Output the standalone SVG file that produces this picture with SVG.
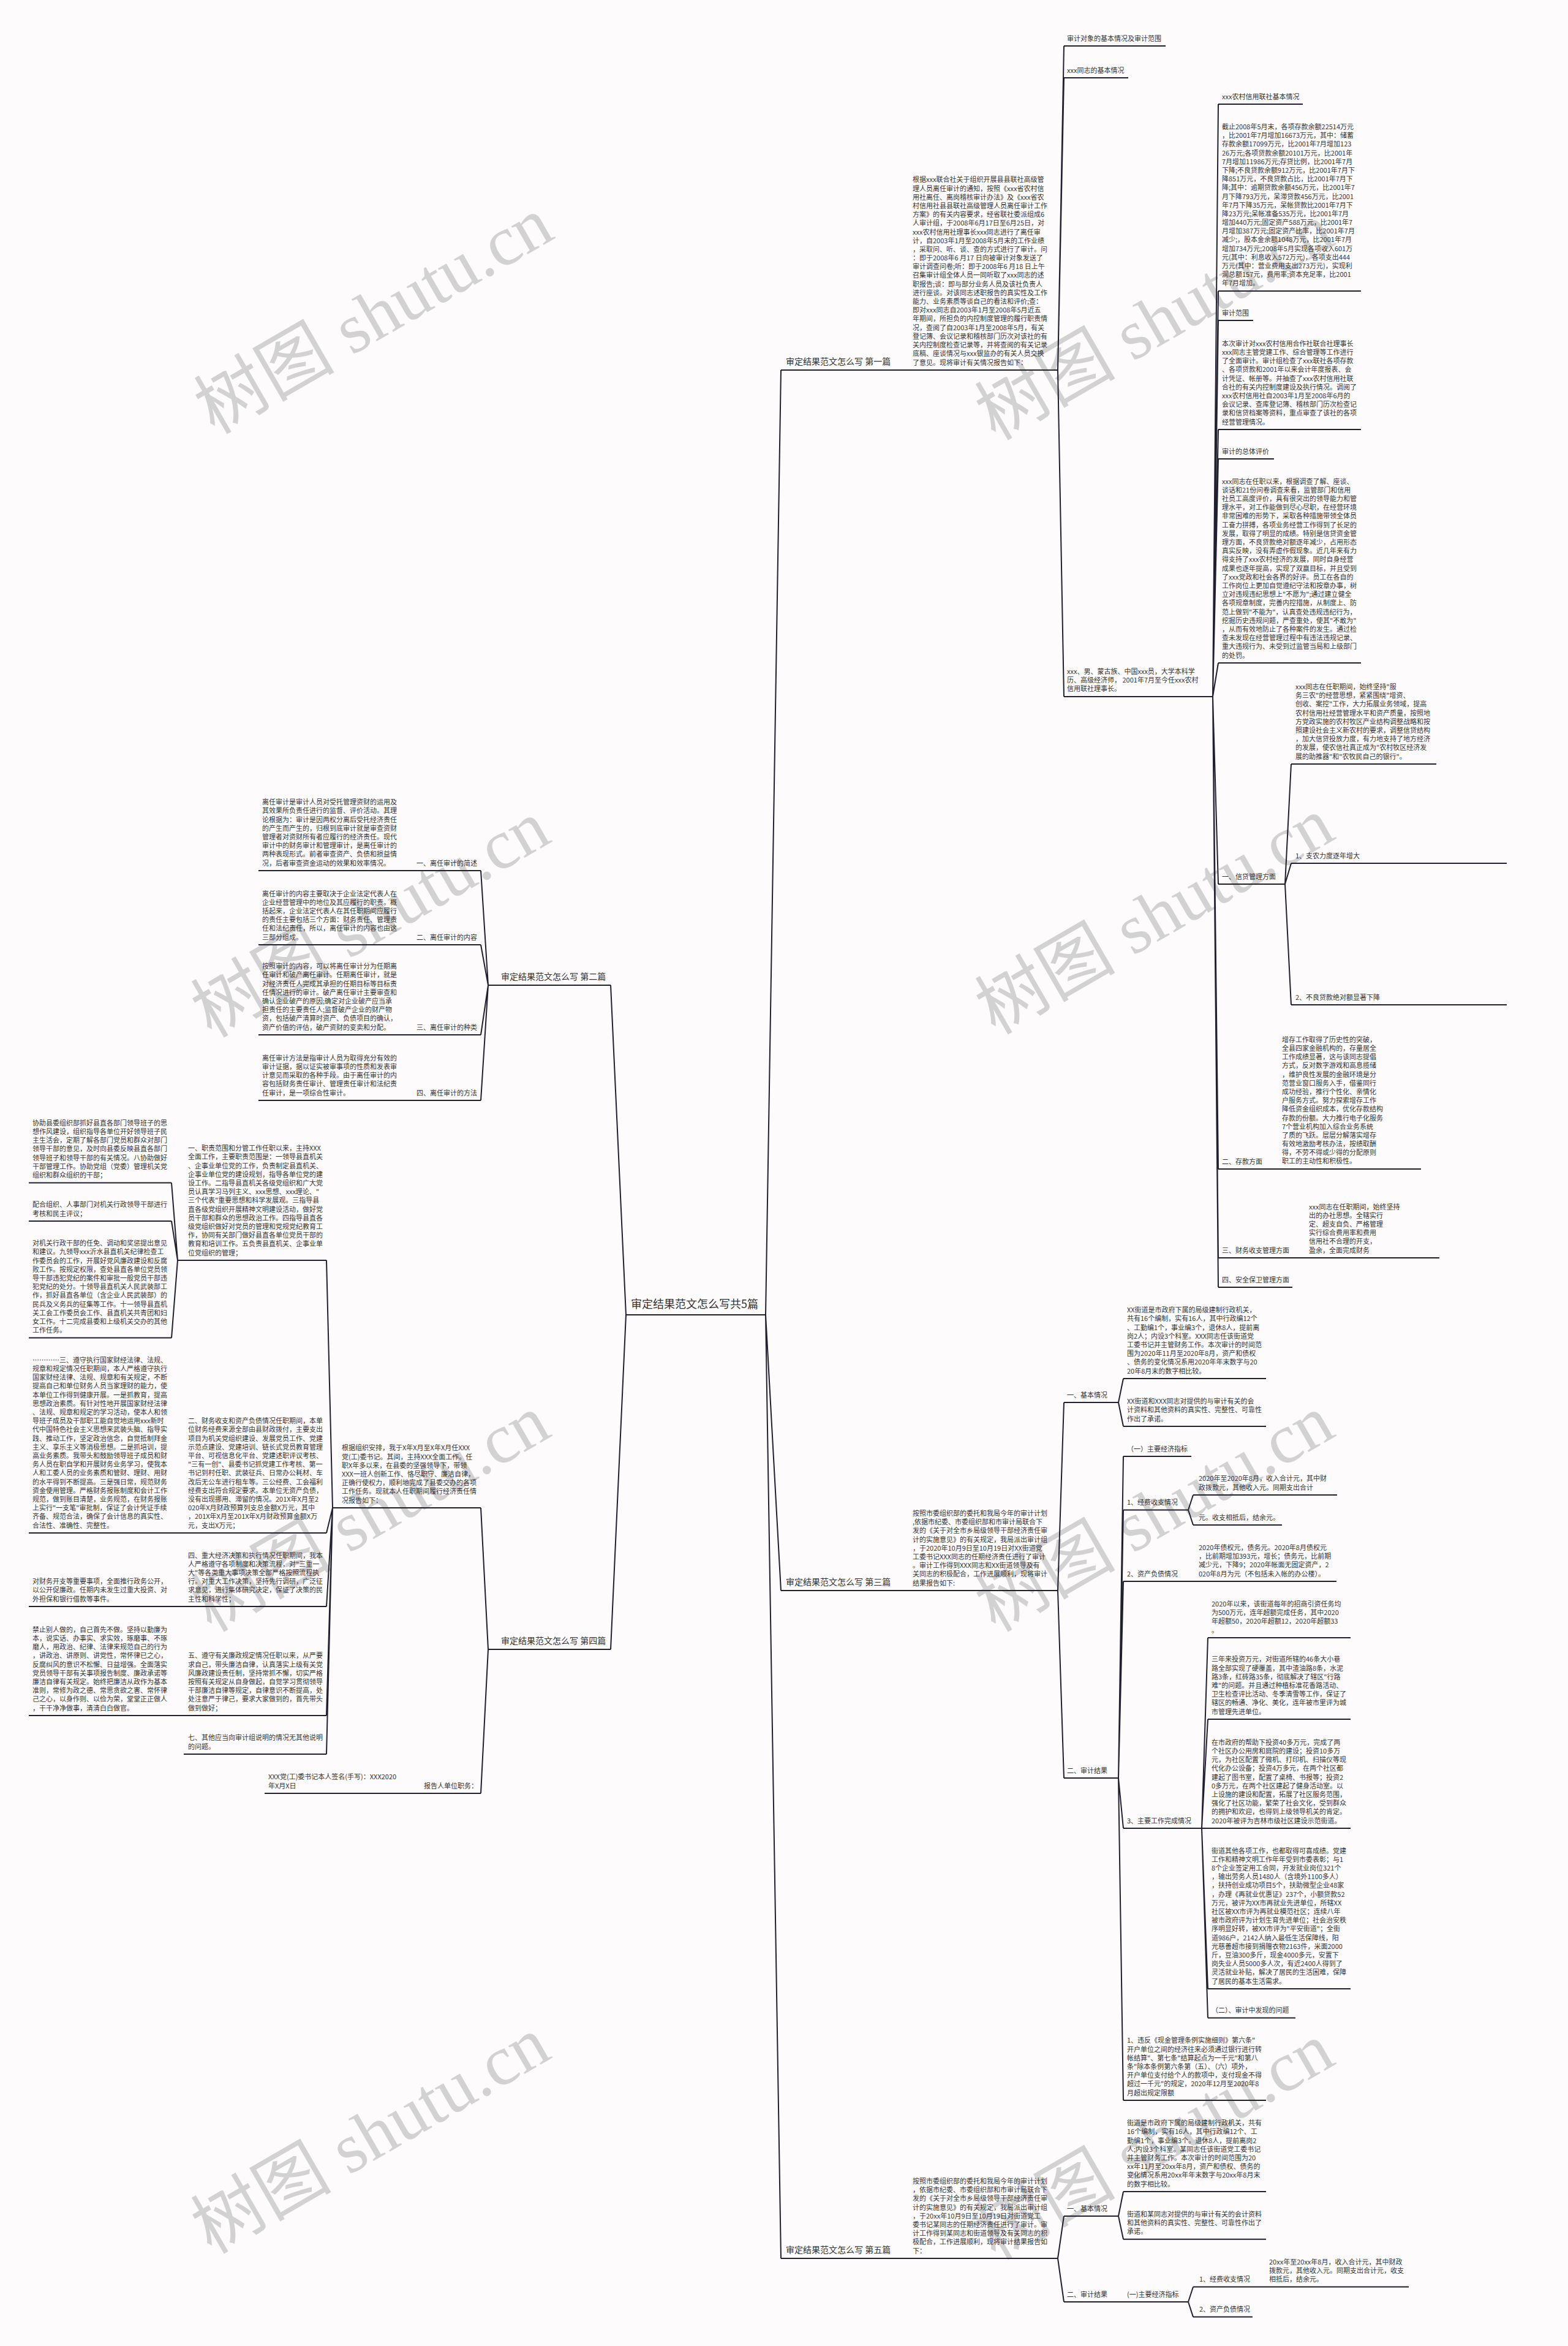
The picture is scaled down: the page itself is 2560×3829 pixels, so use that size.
<svg xmlns="http://www.w3.org/2000/svg" width="2560" height="3829" viewBox="0 0 2560 3829">
<style>
.bg{fill:#fdfbfb}
.t{font-family:"Noto Sans CJK SC","Noto Sans",sans-serif;font-size:11px;fill:#333}
.l1{font-family:"Noto Sans CJK SC","Noto Sans",sans-serif;font-size:14px;fill:#333}
.rt{font-family:"Noto Sans CJK SC","Noto Sans",sans-serif;font-size:18px;fill:#333}
.u{stroke:#20202e;stroke-width:2;fill:none}
.c{stroke:#20202e;stroke-width:2;fill:none}
.wm{font-family:"Liberation Serif","Noto Sans CJK SC",serif;font-size:115px;fill:#d2d2d2}
</style>
<rect class="bg" x="0" y="0" width="2560" height="3829"/>
<g id="watermark">
<text class="wm" x="350" y="710" transform="rotate(-30 350 710)">树图 shutu.cn</text>
<text class="wm" x="1625" y="720" transform="rotate(-30 1625 720)">树图 shutu.cn</text>
<text class="wm" x="345" y="1695" transform="rotate(-30 345 1695)">树图 shutu.cn</text>
<text class="wm" x="1625" y="1690" transform="rotate(-30 1625 1690)">树图 shutu.cn</text>
<text class="wm" x="345" y="2665" transform="rotate(-30 345 2665)">树图 shutu.cn</text>
<text class="wm" x="1625" y="2665" transform="rotate(-30 1625 2665)">树图 shutu.cn</text>
<text class="wm" x="345" y="3680" transform="rotate(-30 345 3680)">树图 shutu.cn</text>
<text class="wm" x="1625" y="3690" transform="rotate(-30 1625 3690)">树图 shutu.cn</text>
</g>
<g id="connectors">
<path class="c" d="M1250,2146L1275,604M1250,2146L1275,2596M1250,2146L1275,3686M1022,2146L997,1608M1022,2146L997,2692"/>
<path class="c" d="M1727,604L1737,75M1727,604L1737,127M1727,604L1737,1137"/>
<path class="c" d="M1980,1137L1989,170M1980,1137L1989,475M1980,1137L1989,523M1980,1137L1989,701M1980,1137L1989,749M1980,1137L1989,1082M1980,1137L1989,1443M1980,1137L1989,1908M1980,1137L1989,2053M1980,1137L1989,2101"/>
<path class="c" d="M2098,1443L2108,1247M2098,1443L2108,1409M2098,1443L2108,1640"/>
<path class="c" d="M797,1608L785,1421M797,1608L785,1542M797,1608L785,1689M797,1608L785,1796"/>
<path class="c" d="M797,2692L785,2461M797,2692L785,2927"/>
<path class="c" d="M543,2461L533,2057M543,2461L533,2502M543,2461L533,2622M543,2461L533,2800M543,2461L533,2863"/>
<path class="c" d="M290,2057L280,1930.5M290,2057L280,1993M290,2057L280,2183.6"/>
<path class="c" d="M1727,2596L1737,2289M1727,2596L1737,2902"/>
<path class="c" d="M1826,2289L1834,2250M1826,2289L1834,2328"/>
<path class="c" d="M1826,2902L1834,2377M1826,2902L1834,2464.5M1826,2902L1834,2581M1826,2902L1834,2984M1826,2902L1834,3428"/>
<path class="c" d="M1940,2464.5L1948,2440M1940,2464.5L1948,2489"/>
<path class="c" d="M1962,2984L1972,2673M1962,2984L1972,2806M1962,2984L1972,2984M1962,2984L1972,3246M1962,2984L1972,3293.5"/>
<path class="c" d="M1727,3686L1737,3617M1727,3686L1737,3757"/>
<path class="c" d="M1826,3617L1834,3577M1826,3617L1834,3654.7M1826,3757L1834,3757"/>
<path class="c" d="M1940,3757L1948,3732.5M1940,3757L1948,3781.6"/>
</g>
<g id="root">
<text class="rt" x="1030" y="2135">审定结果范文怎么写共5篇</text>
<line class="u" x1="1022" y1="2146" x2="1250" y2="2146"/>
</g>
<g id="p1">
<text class="l1" x="1283" y="595">审定结果范文怎么写 第一篇</text>
<line class="u" x1="1275" y1="604" x2="1460" y2="604"/>
</g>
<g id="p1-main">
<text class="t" y="297.3"><tspan x="1490" dy="0">根据xxx联合社关于组织开展县县联社高级管</tspan><tspan x="1490" dy="14.2">理人员离任审计的通知，按照《xxx省农村信</tspan><tspan x="1490" dy="14.2">用社离任、离岗稽核审计办法》及《xxx省农</tspan><tspan x="1490" dy="14.2">村信用社县县联社高级管理人员离任审计工作</tspan><tspan x="1490" dy="14.2">方案》的有关内容要求，经省联社委派组成6</tspan><tspan x="1490" dy="14.2">人审计组，于2008年6月17日至6月25日，对</tspan><tspan x="1490" dy="14.2">xxx农村信用社理事长xxx同志进行了离任审</tspan><tspan x="1490" dy="14.2">计，自2003年1月至2008年5月末的工作业绩</tspan><tspan x="1490" dy="14.2">，采取问、听、谈、查的方式进行了审计。问</tspan><tspan x="1490" dy="14.2">：即于2008年6 月17 日向被审计对象发送了</tspan><tspan x="1490" dy="14.2">审计调查问卷;听：即于2008年6 月18 日上午</tspan><tspan x="1490" dy="14.2">召集审计组全体人员一同听取了xxx同志的述</tspan><tspan x="1490" dy="14.2">职报告;谈：即与部分业务人员及该社负责人</tspan><tspan x="1490" dy="14.2">进行座谈。对该同志述职报告的真实性及工作</tspan><tspan x="1490" dy="14.2">能力、业务素质等谈自己的看法和评价;查：</tspan><tspan x="1490" dy="14.2">即对xxx同志自2003年1月至2008年5月近五</tspan><tspan x="1490" dy="14.2">年期间，所担负的内控制度管理的履行职责情</tspan><tspan x="1490" dy="14.2">况，查阅了自2003年1月至2008年5月，有关</tspan><tspan x="1490" dy="14.2">登记簿、会议记录和稽核部门历次对该社的有</tspan><tspan x="1490" dy="14.2">关内控制度检查记录等，并将查阅的有关记录</tspan><tspan x="1490" dy="14.2">底稿、座谈情况与xxx银监办的有关人员交换</tspan><tspan x="1490" dy="14.2">了意见。现将审计有关情况报告如下：</tspan></text>
<line class="u" x1="1460" y1="604" x2="1727" y2="604"/>
</g>
<g id="p1-a">
<text class="t" x="1742" y="66.5">审计对象的基本情况及审计范围</text>
<line class="u" x1="1737" y1="75" x2="1903" y2="75"/>
</g>
<g id="p1-b">
<text class="t" x="1742" y="118.5">xxx同志的基本情况</text>
<line class="u" x1="1737" y1="127" x2="1842" y2="127"/>
</g>
<g id="p1-c">
<text class="t" y="1100"><tspan x="1742" dy="0">xxx、男、蒙古族、中国xxx员，大学本科学</tspan><tspan x="1742" dy="14.2">历、高级经济师， 2001年7月至今任xxx农村</tspan><tspan x="1742" dy="14.2">信用联社理事长。</tspan></text>
<line class="u" x1="1737" y1="1137" x2="1980" y2="1137"/>
</g>
<g id="p1-c1">
<text class="t" x="1995" y="161.5">xxx农村信用联社基本情况</text>
<line class="u" x1="1989" y1="170" x2="2127" y2="170"/>
</g>
<g id="p1-c2">
<text class="t" y="210.9"><tspan x="1995" dy="0">截止2008年5月末，各项存款余额22514万元</tspan><tspan x="1995" dy="14.2">，比2001年7月增加16673万元，其中：储蓄</tspan><tspan x="1995" dy="14.2">存款余额17099万元，比2001年7月增加123</tspan><tspan x="1995" dy="14.2">26万元;各项贷款余额20101万元，比2001年</tspan><tspan x="1995" dy="14.2">7月增加11986万元;存贷比例，比2001年7月</tspan><tspan x="1995" dy="14.2">下降;不良贷款余额912万元，比2001年7月下</tspan><tspan x="1995" dy="14.2">降851万元，不良贷款占比，比2001年7月下</tspan><tspan x="1995" dy="14.2">降;其中：逾期贷款余额456万元，比2001年7</tspan><tspan x="1995" dy="14.2">月下降793万元，呆滞贷款456万元，比2001</tspan><tspan x="1995" dy="14.2">年7月下降35万元，呆帐贷款比2001年7月下</tspan><tspan x="1995" dy="14.2">降23万元;呆帐准备535万元，比2001年7月</tspan><tspan x="1995" dy="14.2">增加440万元;固定资产588万元，比2001年7</tspan><tspan x="1995" dy="14.2">月增加387万元;固定资产比率，比2001年7月</tspan><tspan x="1995" dy="14.2">减少;，股本金余额1048万元，比2001年7月</tspan><tspan x="1995" dy="14.2">增加734万元;2008年5月实现各项收入601万</tspan><tspan x="1995" dy="14.2">元(其中：利息收入572万元)，各项支出444</tspan><tspan x="1995" dy="14.2">万元(其中：营业费用支出273万元)，实现利</tspan><tspan x="1995" dy="14.2">润总额157元，费用率;资本充足率，比2001</tspan><tspan x="1995" dy="14.2">年7月增加。</tspan></text>
<line class="u" x1="1989" y1="475" x2="2222" y2="475"/>
</g>
<g id="p1-c3">
<text class="t" x="1995" y="514.5">审计范围</text>
<line class="u" x1="1989" y1="523" x2="2046" y2="523"/>
</g>
<g id="p1-c4">
<text class="t" y="564.7"><tspan x="1995" dy="0">本次审计对xxx农村信用合作社联合社理事长</tspan><tspan x="1995" dy="14.2">xxx同志主管党建工作、综合管理等工作进行</tspan><tspan x="1995" dy="14.2">了全面审计。审计组检查了xxx联社各项存款</tspan><tspan x="1995" dy="14.2">、各项贷款和2001年以来会计年度报表、会</tspan><tspan x="1995" dy="14.2">计凭证、帐册等。并抽查了xxx农村信用社联</tspan><tspan x="1995" dy="14.2">合社的有关内控制度建设及执行情况。调阅了</tspan><tspan x="1995" dy="14.2">xxx农村信用社自2003年1月至2008年6月的</tspan><tspan x="1995" dy="14.2">会议记录、查库登记簿、稽核部门历次检查记</tspan><tspan x="1995" dy="14.2">录和信贷档案等资料，重点审查了该社的各项</tspan><tspan x="1995" dy="14.2">经营管理情况。</tspan></text>
<line class="u" x1="1989" y1="701" x2="2222" y2="701"/>
</g>
<g id="p1-c5">
<text class="t" x="1995" y="740.5">审计的总体评价</text>
<line class="u" x1="1989" y1="749" x2="2080" y2="749"/>
</g>
<g id="p1-c6">
<text class="t" y="789.5"><tspan x="1995" dy="0">xxx同志在任职以来，根据调查了解、座谈、</tspan><tspan x="1995" dy="14.2">谈话和21份问卷调查来看，监管部门和信用</tspan><tspan x="1995" dy="14.2">社员工高度评价，具有很突出的领导能力和管</tspan><tspan x="1995" dy="14.2">理水平，对工作能做到尽心尽职，在经营环境</tspan><tspan x="1995" dy="14.2">非常困难的形势下，采取各种措施带领全体员</tspan><tspan x="1995" dy="14.2">工奋力拼搏，各项业务经营工作得到了长足的</tspan><tspan x="1995" dy="14.2">发展，取得了明显的成绩。特别是信贷资金管</tspan><tspan x="1995" dy="14.2">理方面，不良贷款绝对额逐年减少，占用形态</tspan><tspan x="1995" dy="14.2">真实反映，没有弄虚作假现象。近几年来有力</tspan><tspan x="1995" dy="14.2">得支持了xxx农村经济的发展，同时自身经营</tspan><tspan x="1995" dy="14.2">成果也逐年提高，实现了双赢目标，并且受到</tspan><tspan x="1995" dy="14.2">了xxx党政和社会各界的好评。员工在各自的</tspan><tspan x="1995" dy="14.2">工作岗位上更加自觉遵纪守法和按章办事，树</tspan><tspan x="1995" dy="14.2">立对违规违纪思想上"不愿为";通过建立健全</tspan><tspan x="1995" dy="14.2">各项规章制度，完善内控措施，从制度上、防</tspan><tspan x="1995" dy="14.2">范上做到"不能为"，认真查处违规违纪行为，</tspan><tspan x="1995" dy="14.2">挖掘历史违规问题，严查重处，使其"不敢为"</tspan><tspan x="1995" dy="14.2">，从而有效地防止了各种案件的发生。通过检</tspan><tspan x="1995" dy="14.2">查未发现在经营管理过程中有违法违规记录、</tspan><tspan x="1995" dy="14.2">重大违规行为、未受到过监管当局和上级部门</tspan><tspan x="1995" dy="14.2">的处罚。</tspan></text>
<line class="u" x1="1989" y1="1082" x2="2222" y2="1082"/>
</g>
<g id="p1-c7">
<text class="t" x="1995" y="1434.5">一、信贷管理方面</text>
<line class="u" x1="1989" y1="1443" x2="2098" y2="1443"/>
</g>
<g id="p1-c7a">
<text class="t" y="1125"><tspan x="2115" dy="0">xxx同志在任职期间，始终坚持"服</tspan><tspan x="2115" dy="14.2">务三农"的经营思想，紧紧围绕"增资、</tspan><tspan x="2115" dy="14.2">创收、案控"工作，大力拓展业务领域，提高</tspan><tspan x="2115" dy="14.2">农村信用社经营管理水平和资产质量，按照地</tspan><tspan x="2115" dy="14.2">方党政实施的农村牧区产业结构调整战略和按</tspan><tspan x="2115" dy="14.2">照建设社会主义新农村的要求，调整信贷结构</tspan><tspan x="2115" dy="14.2">，加大信贷投放力度，有力地支持了地方经济</tspan><tspan x="2115" dy="14.2">的发展，使农信社真正成为"农村牧区经济发</tspan><tspan x="2115" dy="14.2">展的助推器"和"农牧民自己的银行"。</tspan></text>
<line class="u" x1="2108" y1="1247" x2="2345" y2="1247"/>
</g>
<g id="p1-c7b">
<text class="t" x="2115" y="1400.5">1、支农力度逐年增大</text>
<line class="u" x1="2108" y1="1409" x2="2460" y2="1409"/>
</g>
<g id="p1-c7c">
<text class="t" x="2115" y="1631.5">2、不良贷款绝对额显著下降</text>
<line class="u" x1="2108" y1="1640" x2="2460" y2="1640"/>
</g>
<g id="p1-c8">
<text class="t" x="1995" y="1899.5">二、存款方面</text>
<text class="t" y="1700.7"><tspan x="2093" dy="0">增存工作取得了历史性的突破，</tspan><tspan x="2093" dy="14.2">全县四家金融机构的，存量居全</tspan><tspan x="2093" dy="14.2">工作成绩显著，这与该同志提倡</tspan><tspan x="2093" dy="14.2">方式，反对数字游戏和高息揽储</tspan><tspan x="2093" dy="14.2">，维护良性发展的金融环境是分</tspan><tspan x="2093" dy="14.2">范营业窗口服务入手，借鉴同行</tspan><tspan x="2093" dy="14.2">成功经验，推行个性化、亲情化</tspan><tspan x="2093" dy="14.2">户服务方式。努力探索增存工作</tspan><tspan x="2093" dy="14.2">降低资金组织成本，优化存款结构</tspan><tspan x="2093" dy="14.2">存款的份额。大力推行电子化服务</tspan><tspan x="2093" dy="14.2">7个营业机构加入综合业务系统</tspan><tspan x="2093" dy="14.2">了质的飞跃。层层分解落实增存</tspan><tspan x="2093" dy="14.2">有效地激励考核办法，按绩取酬</tspan><tspan x="2093" dy="14.2">得，不劳不得或少得的分配原则</tspan><tspan x="2093" dy="14.2">职工的主动性和积极性。</tspan></text>
<line class="u" x1="1989" y1="1908" x2="2320" y2="1908"/>
</g>
<g id="p1-c9">
<text class="t" x="1995" y="2044.5">三、财务收支管理方面</text>
<text class="t" y="1973.5"><tspan x="2137" dy="0">xxx同志在任职期间，始终坚持</tspan><tspan x="2137" dy="14.2">出的办社思想。全辖实行</tspan><tspan x="2137" dy="14.2">定、超支自负、严格管理</tspan><tspan x="2137" dy="14.2">实行综合费用率和费用</tspan><tspan x="2137" dy="14.2">信用社不合理的开支，</tspan><tspan x="2137" dy="14.2">盈余，全面完成财务</tspan></text>
<line class="u" x1="1989" y1="2053" x2="2350" y2="2053"/>
</g>
<g id="p1-c10">
<text class="t" x="1995" y="2092.5">四、安全保卫管理方面</text>
<line class="u" x1="1989" y1="2101" x2="2110" y2="2101"/>
</g>
<g id="p2">
<text class="l1" x="818" y="1599">审定结果范文怎么写 第二篇</text>
<line class="u" x1="797" y1="1608" x2="997" y2="1608"/>
</g>
<g id="p2-1">
<text class="t" x="680" y="1412.5">一、离任审计的简述</text>
<text class="t" y="1313.1"><tspan x="428" dy="0">离任审计是审计人员对受托管理资财的运用及</tspan><tspan x="428" dy="14.2">其效果所负责任进行的监督、评价活动。其理</tspan><tspan x="428" dy="14.2">论根据为：审计是因两权分离后受托经济责任</tspan><tspan x="428" dy="14.2">的产生而产生的，归根到底审计就是审查资财</tspan><tspan x="428" dy="14.2">管理者对资财所有者应履行的经济责任。现代</tspan><tspan x="428" dy="14.2">审计中的财务审计和管理审计，是离任审计的</tspan><tspan x="428" dy="14.2">两种表现形式。前者审查资产、负债和损益情</tspan><tspan x="428" dy="14.2">况，后者审查资金运动的效果和效率情况。</tspan></text>
<line class="u" x1="422" y1="1421" x2="785" y2="1421"/>
</g>
<g id="p2-2">
<text class="t" x="680" y="1533.5">二、离任审计的内容</text>
<text class="t" y="1462.5"><tspan x="428" dy="0">离任审计的内容主要取决于企业法定代表人在</tspan><tspan x="428" dy="14.2">企业经营管理中的地位及其应履行的职责。概</tspan><tspan x="428" dy="14.2">括起来，企业法定代表人在其任职期间应履行</tspan><tspan x="428" dy="14.2">的责任主要包括三个方面：财务责任、管理责</tspan><tspan x="428" dy="14.2">任和法纪责任，所以，离任审计的内容也由这</tspan><tspan x="428" dy="14.2">三部分组成。</tspan></text>
<line class="u" x1="422" y1="1542" x2="785" y2="1542"/>
</g>
<g id="p2-3">
<text class="t" x="680" y="1680.5">三、离任审计的种类</text>
<text class="t" y="1581.1"><tspan x="428" dy="0">按照审计的内容，可以将离任审计分为任期离</tspan><tspan x="428" dy="14.2">任审计和破产离任审计。任期离任审计，就是</tspan><tspan x="428" dy="14.2">对经济责任人完成其承担的任期目标等目标责</tspan><tspan x="428" dy="14.2">任情况进行的审计。破产离任审计主要审查和</tspan><tspan x="428" dy="14.2">确认企业破产的原因;确定对企业破产应当承</tspan><tspan x="428" dy="14.2">担责任的主要责任人;监督破产企业的财产物</tspan><tspan x="428" dy="14.2">资，包括破产清算时资产、负债项目的确认，</tspan><tspan x="428" dy="14.2">资产价值的评估，破产资财的变卖和分配。</tspan></text>
<line class="u" x1="422" y1="1689" x2="785" y2="1689"/>
</g>
<g id="p2-4">
<text class="t" x="680" y="1787.5">四、离任审计的方法</text>
<text class="t" y="1730.7"><tspan x="428" dy="0">离任审计方法是指审计人员为取得充分有效的</tspan><tspan x="428" dy="14.2">审计证据，据以证实被审事项的性质和发表审</tspan><tspan x="428" dy="14.2">计意见而采取的各种手段。由于离任审计的内</tspan><tspan x="428" dy="14.2">容包括财务责任审计、管理责任审计和法纪责</tspan><tspan x="428" dy="14.2">任审计，是一项综合性审计。</tspan></text>
<line class="u" x1="422" y1="1796" x2="785" y2="1796"/>
</g>
<g id="p4">
<text class="l1" x="818" y="2683">审定结果范文怎么写 第四篇</text>
<line class="u" x1="797" y1="2692" x2="997" y2="2692"/>
</g>
<g id="p4-a">
<text class="t" y="2367.3"><tspan x="558" dy="0">根据组织安排，我于X年X月至X年X月任XXX</tspan><tspan x="558" dy="14.2">党(工)委书记。其间，主持XXX全面工作。任</tspan><tspan x="558" dy="14.2">职X年多以来，在县委的坚强领导下，带领</tspan><tspan x="558" dy="14.2">XXX一班人创新工作、恪尽职守、廉洁自律，</tspan><tspan x="558" dy="14.2">正确行使权力，顺利地完成了县委交办的各项</tspan><tspan x="558" dy="14.2">工作任务。现就本人任职期间履行经济责任情</tspan><tspan x="558" dy="14.2">况报告如下：</tspan></text>
<line class="u" x1="543" y1="2461" x2="785" y2="2461"/>
</g>
<g id="p4-b">
<text class="t" x="692" y="2918.5">报告人单位职务：</text>
<line class="u" x1="686" y1="2927" x2="785" y2="2927"/>
</g>
<g id="p4-b1">
<text class="t" y="2904.3"><tspan x="438" dy="0">XXX党(工)委书记本人签名(手写)：XXX2020</tspan><tspan x="438" dy="14.2">年X月X日</tspan></text>
<line class="u" x1="432" y1="2927" x2="686" y2="2927"/>
</g>
<g id="p4-1">
<text class="t" y="1878.1"><tspan x="307" dy="0">一、职责范围和分管工作任职以来，主持XXX</tspan><tspan x="307" dy="14.2">全面工作，主要职责范围是：一领导县直机关</tspan><tspan x="307" dy="14.2">、企事业单位党的工作，负责制定县直机关、</tspan><tspan x="307" dy="14.2">企事业单位党的建设规划，指导各单位党的建</tspan><tspan x="307" dy="14.2">设工作。二指导县直机关各级党组织和广大党</tspan><tspan x="307" dy="14.2">员认真学习马列主义、xxx思想、xxx理论、"</tspan><tspan x="307" dy="14.2">三个代表"重要思想和科学发展观。三指导县</tspan><tspan x="307" dy="14.2">直各级党组织开展精神文明建设活动，做好党</tspan><tspan x="307" dy="14.2">员干部和群众的思想政治工作。四指导县直各</tspan><tspan x="307" dy="14.2">级党组织做好对党员的管理和党规党纪教育工</tspan><tspan x="307" dy="14.2">作，协同有关部门做好县直各单位党员干部的</tspan><tspan x="307" dy="14.2">教育和培训工作。五负责县直机关、企事业单</tspan><tspan x="307" dy="14.2">位党组织的管理；</tspan></text>
<line class="u" x1="290" y1="2057" x2="533" y2="2057"/>
</g>
<g id="p4-1a">
<text class="t" y="1836.8"><tspan x="53" dy="0">协助县委组织部抓好县直各部门领导班子的思</tspan><tspan x="53" dy="14.2">想作风建设，组织指导各单位开好领导班子民</tspan><tspan x="53" dy="14.2">主生活会，定期了解各部门党员和群众对部门</tspan><tspan x="53" dy="14.2">领导干部的意见，及时向县委反映县直各部门</tspan><tspan x="53" dy="14.2">领导班子和领导干部的有关情况。八协助做好</tspan><tspan x="53" dy="14.2">干部管理工作。协助党组（党委）管理机关党</tspan><tspan x="53" dy="14.2">组织和群众组织的干部；</tspan></text>
<line class="u" x1="47" y1="1930.5" x2="280" y2="1930.5"/>
</g>
<g id="p4-1b">
<text class="t" y="1970.3"><tspan x="53" dy="0">配合组织、人事部门对机关行政领导干部进行</tspan><tspan x="53" dy="14.2">考核和民主评议；</tspan></text>
<line class="u" x1="47" y1="1993" x2="280" y2="1993"/>
</g>
<g id="p4-1c">
<text class="t" y="2033.1"><tspan x="53" dy="0">对机关行政干部的任免、调动和奖惩提出意见</tspan><tspan x="53" dy="14.2">和建议。九领导xxx沂水县直机关纪律检查工</tspan><tspan x="53" dy="14.2">作委员会的工作，开展好党风廉政建设和反腐</tspan><tspan x="53" dy="14.2">败工作。按规定权限，查处县直各单位党员领</tspan><tspan x="53" dy="14.2">导干部违犯党纪的案件和审批一般党员干部违</tspan><tspan x="53" dy="14.2">犯党纪的处分。十领导县直机关人民武装部工</tspan><tspan x="53" dy="14.2">作，抓好县直各单位（含企业人民武装部）的</tspan><tspan x="53" dy="14.2">民兵及义务兵的征集等工作。十一领导县直机</tspan><tspan x="53" dy="14.2">关工会工作委员会工作、县直机关共青团和妇</tspan><tspan x="53" dy="14.2">女工作。十二完成县委和上级机关交办的其他</tspan><tspan x="53" dy="14.2">工作任务。</tspan></text>
<line class="u" x1="47" y1="2183.6" x2="280" y2="2183.6"/>
</g>
<g id="p4-2">
<text class="t" y="2323.1"><tspan x="307" dy="0">二、财务收支和资产负债情况任职期间，本单</tspan><tspan x="307" dy="14.2">位财务经费来源全部由县财政拨付，主要支出</tspan><tspan x="307" dy="14.2">项目为机关党组织建设、发展党员工作、党建</tspan><tspan x="307" dy="14.2">示范点建设、党建培训、链长式党员教育管理</tspan><tspan x="307" dy="14.2">平台、可视信息化平台、党建述职评议考核、</tspan><tspan x="307" dy="14.2">"三有一创"、县委书记抓党建工作考核、第一</tspan><tspan x="307" dy="14.2">书记到村任职、武装征兵、日常办公耗材、车</tspan><tspan x="307" dy="14.2">改后无公车进行租车等。三公经费、工会福利</tspan><tspan x="307" dy="14.2">经费支出符合规定要求。本单位无资产负债，</tspan><tspan x="307" dy="14.2">没有出现挪用、滞留的情况。201X年X月至2</tspan><tspan x="307" dy="14.2">020年X月财政预算列支总金额X万元，其中</tspan><tspan x="307" dy="14.2">，201X年X月至201X年X月财政预算金额X万</tspan><tspan x="307" dy="14.2">元，支出X万元；</tspan></text>
<line class="u" x1="290" y1="2502" x2="533" y2="2502"/>
</g>
<g id="p4-2a">
<text class="t" y="2223.7"><tspan x="53" dy="0">…………三、遵守执行国家财经法律、法规、</tspan><tspan x="53" dy="14.2">规章和规定情况任职期间，本人严格遵守执行</tspan><tspan x="53" dy="14.2">国家财经法律、法规、规章和有关规定，不断</tspan><tspan x="53" dy="14.2">提高自己和单位财务人员当家理财的能力，使</tspan><tspan x="53" dy="14.2">本单位工作得到健康开展。一是抓教育，提高</tspan><tspan x="53" dy="14.2">思想政治素质。有针对性地开展国家财经法律</tspan><tspan x="53" dy="14.2">、法规、规章和规定的学习活动，使本人和领</tspan><tspan x="53" dy="14.2">导班子成员及干部职工能自觉地运用xxx新时</tspan><tspan x="53" dy="14.2">代中国特色社会主义思想来武装头脑、指导实</tspan><tspan x="53" dy="14.2">践、推动工作，坚定政治信念，自觉抵制拜金</tspan><tspan x="53" dy="14.2">主义、享乐主义等消极思想。二是抓培训，提</tspan><tspan x="53" dy="14.2">高业务素质。我带头和鼓励领导班子成员和财</tspan><tspan x="53" dy="14.2">务人员在职自学和开展财务业务学习，使我本</tspan><tspan x="53" dy="14.2">人和工委人员的业务素质和管财、理财、用财</tspan><tspan x="53" dy="14.2">的水平得到不断提高。三是强日常，规范财务</tspan><tspan x="53" dy="14.2">资金使用管理。严格财务报账制度和会计工作</tspan><tspan x="53" dy="14.2">规范，做到账目清楚，业务规范，在财务报账</tspan><tspan x="53" dy="14.2">上实行"一支笔"审批制，保证了会计凭证手续</tspan><tspan x="53" dy="14.2">齐备、规范合法，确保了会计信息的真实性、</tspan><tspan x="53" dy="14.2">合法性、准确性、完整性。</tspan></text>
<line class="u" x1="47" y1="2502" x2="290" y2="2502"/>
</g>
<g id="p4-3">
<text class="t" y="2542.5"><tspan x="307" dy="0">四、重大经济决策和执行情况任职期间，我本</tspan><tspan x="307" dy="14.2">人严格遵守各项制度和决策流程，对"三重一</tspan><tspan x="307" dy="14.2">大"等各类重大事项决策全部严格按照流程执</tspan><tspan x="307" dy="14.2">行。对重大工作决策，坚持先行调研，广泛征</tspan><tspan x="307" dy="14.2">求意见，进行集体研究决定，保证了决策的民</tspan><tspan x="307" dy="14.2">主性和科学性；</tspan></text>
<line class="u" x1="290" y1="2622" x2="533" y2="2622"/>
</g>
<g id="p4-3a">
<text class="t" y="2585.1"><tspan x="53" dy="0">对财务开支等重要事项，全面推行政务公开，</tspan><tspan x="53" dy="14.2">以公开促廉政。任期内未发生过重大投资、对</tspan><tspan x="53" dy="14.2">外担保和银行借款等事件。</tspan></text>
<line class="u" x1="47" y1="2622" x2="290" y2="2622"/>
</g>
<g id="p4-4">
<text class="t" y="2706.3"><tspan x="307" dy="0">五、遵守有关廉政规定情况任职以来，从严要</tspan><tspan x="307" dy="14.2">求自己，带头廉洁自律，认真落实上级有关党</tspan><tspan x="307" dy="14.2">风廉政建设责任制，坚持常抓不懈，切实严格</tspan><tspan x="307" dy="14.2">按照有关规定从自身做起，自觉学习贯彻领导</tspan><tspan x="307" dy="14.2">干部廉洁自律等规定，自律意识不断提高，处</tspan><tspan x="307" dy="14.2">处注意严于律己，要求大家做到的，首先带头</tspan><tspan x="307" dy="14.2">做到做好；</tspan></text>
<line class="u" x1="290" y1="2800" x2="533" y2="2800"/>
</g>
<g id="p4-4a">
<text class="t" y="2663.7"><tspan x="53" dy="0">禁止别人做的，自己首先不做。坚持以勤廉为</tspan><tspan x="53" dy="14.2">本，说实话、办事实、求实效，琢磨事、不琢</tspan><tspan x="53" dy="14.2">磨人，用政治、纪律、法律来规范自己的行为</tspan><tspan x="53" dy="14.2">，讲政治、讲原则、讲党性，常怀律已之心，</tspan><tspan x="53" dy="14.2">反腐纠风的意识不松懈、日益增强。全面落实</tspan><tspan x="53" dy="14.2">党员领导干部有关事项报告制度、廉政承诺等</tspan><tspan x="53" dy="14.2">廉洁自律有关规定。始终把廉洁从政作为基本</tspan><tspan x="53" dy="14.2">准则，常修为政之德、常思贪欲之害、常怀律</tspan><tspan x="53" dy="14.2">己之心，以身作则、以俭为荣，堂堂正正做人</tspan><tspan x="53" dy="14.2">，干干净净做事，清清白白做官。</tspan></text>
<line class="u" x1="47" y1="2800" x2="290" y2="2800"/>
</g>
<g id="p4-5">
<text class="t" y="2840.3"><tspan x="307" dy="0">七、其他应当向审计组说明的情况无其他说明</tspan><tspan x="307" dy="14.2">的问题。</tspan></text>
<line class="u" x1="300" y1="2863" x2="533" y2="2863"/>
</g>
<g id="p3">
<text class="l1" x="1283" y="2587">审定结果范文怎么写 第三篇</text>
<line class="u" x1="1275" y1="2596" x2="1460" y2="2596"/>
</g>
<g id="p3-main">
<text class="t" y="2473.9"><tspan x="1490" dy="0">按照市委组织部的委托和我局今年的审计计划</tspan><tspan x="1490" dy="14.2">,依据市纪委、市委组织部和市审计局联合下</tspan><tspan x="1490" dy="14.2">发的《关于对全市乡局级领导干部经济责任审</tspan><tspan x="1490" dy="14.2">计的实施意见》的有关规定，我局派出审计组</tspan><tspan x="1490" dy="14.2">，于2020年10月9日至10月19日对XX街道党</tspan><tspan x="1490" dy="14.2">工委书记XXX同志的任期经济责任进行了审计</tspan><tspan x="1490" dy="14.2">。审计工作得到XXX同志和XX街道领导及有</tspan><tspan x="1490" dy="14.2">关同志的积极配合，工作进展顺利，现将审计</tspan><tspan x="1490" dy="14.2">结果报告如下:</tspan></text>
<line class="u" x1="1460" y1="2596" x2="1727" y2="2596"/>
</g>
<g id="p3-1">
<text class="t" x="1742" y="2280.5">一、基本情况</text>
<line class="u" x1="1737" y1="2289" x2="1826" y2="2289"/>
</g>
<g id="p3-1a">
<text class="t" y="2142.1"><tspan x="1840" dy="0">XX街道是市政府下属的局级建制行政机关，</tspan><tspan x="1840" dy="14.2">共有16个编制，实有16人，其中行政编12个</tspan><tspan x="1840" dy="14.2">、工勤编1个，事业编3个，退休8人，提前离</tspan><tspan x="1840" dy="14.2">岗2人；内设3个科室。XXX同志任该街道党</tspan><tspan x="1840" dy="14.2">工委书记并主管财务工作。本次审计的时间范</tspan><tspan x="1840" dy="14.2">围为2020年11月至2020年8月，资产和债权</tspan><tspan x="1840" dy="14.2">、债务的变化情况系用2020年年末数字与20</tspan><tspan x="1840" dy="14.2">20年8月末的数字相比较。</tspan></text>
<line class="u" x1="1834" y1="2250" x2="2067" y2="2250"/>
</g>
<g id="p3-1b">
<text class="t" y="2291.1"><tspan x="1840" dy="0">XX街道和XXX同志对提供的与审计有关的会</tspan><tspan x="1840" dy="14.2">计资料和其他资料的真实性、完整性、可靠性</tspan><tspan x="1840" dy="14.2">作出了承诺。</tspan></text>
<line class="u" x1="1834" y1="2328" x2="2067" y2="2328"/>
</g>
<g id="p3-2">
<text class="t" x="1742" y="2893.5">二、审计结果</text>
<line class="u" x1="1737" y1="2902" x2="1826" y2="2902"/>
</g>
<g id="p3-2a">
<text class="t" x="1840" y="2368.5">（一）主要经济指标</text>
<line class="u" x1="1834" y1="2377" x2="1945" y2="2377"/>
</g>
<g id="p3-2b">
<text class="t" x="1840" y="2456">1、经费收支情况</text>
<line class="u" x1="1834" y1="2464.5" x2="1940" y2="2464.5"/>
</g>
<g id="p3-2b1">
<text class="t" y="2417.3"><tspan x="1957" dy="0">2020年至2020年8月，收入合计元，其中财</tspan><tspan x="1957" dy="14.2">政拨款元，其他收入元。同期支出合计</tspan></text>
<line class="u" x1="1948" y1="2440" x2="2183" y2="2440"/>
</g>
<g id="p3-2b2">
<text class="t" x="1957" y="2480.5">元。收支相抵后，结余元。</text>
<line class="u" x1="1948" y1="2489" x2="2093" y2="2489"/>
</g>
<g id="p3-2c">
<text class="t" x="1840" y="2572.5">2、资产负债情况</text>
<line class="u" x1="1834" y1="2581" x2="1948" y2="2581"/>
</g>
<g id="p3-2c1">
<text class="t" y="2529.9"><tspan x="1957" dy="0">2020年债权元，债务元。2020年8月债权元</tspan><tspan x="1957" dy="14.2">，比前期增加393元，增长；债务元，比前期</tspan><tspan x="1957" dy="14.2">减少元，下降9；2020年帐面无固定资产，2</tspan><tspan x="1957" dy="14.2">020年8月为元（不包括未入帐的办公楼）。</tspan></text>
<line class="u" x1="1948" y1="2581" x2="2182" y2="2581"/>
</g>
<g id="p3-2d">
<text class="t" x="1840" y="2975.5">3、主要工作完成情况</text>
<line class="u" x1="1834" y1="2984" x2="1962" y2="2984"/>
</g>
<g id="p3-2d1">
<text class="t" y="2621.9"><tspan x="1978" dy="0">2020年以来，该街道每年的招商引资任务均</tspan><tspan x="1978" dy="14.2">为500万元，连年超额完成任务，其中2020</tspan><tspan x="1978" dy="14.2">年超额50，2020年超额12，2020年超额33</tspan><tspan x="1978" dy="14.2">。</tspan></text>
<line class="u" x1="1972" y1="2673" x2="2205" y2="2673"/>
</g>
<g id="p3-2d2">
<text class="t" y="2712.3"><tspan x="1978" dy="0">三年来投资万元，对街道所辖的46条大小巷</tspan><tspan x="1978" dy="14.2">路全部实现了硬覆盖，其中渣油路8条，水泥</tspan><tspan x="1978" dy="14.2">路3条，红砖路35条，彻底解决了辖区"行路</tspan><tspan x="1978" dy="14.2">难"的问题。并且通过种植标准花香路活动、</tspan><tspan x="1978" dy="14.2">卫生检查评比活动、冬季清雪等工作，保证了</tspan><tspan x="1978" dy="14.2">辖区的畅通、净化、美化，连年被市里评为城</tspan><tspan x="1978" dy="14.2">市管理先进单位。</tspan></text>
<line class="u" x1="1972" y1="2806" x2="2205" y2="2806"/>
</g>
<g id="p3-2d3">
<text class="t" y="2847.7"><tspan x="1978" dy="0">在市政府的帮助下投资40多万元，完成了两</tspan><tspan x="1978" dy="14.2">个社区办公用房和庭院的建设；投资10多万</tspan><tspan x="1978" dy="14.2">元，为社区配置了微机、打印机、扫描仪等现</tspan><tspan x="1978" dy="14.2">代化办公设备；投资4万多元，在两个社区都</tspan><tspan x="1978" dy="14.2">建起了图书室，配置了桌椅、书报等；投资2</tspan><tspan x="1978" dy="14.2">0多万元，在两个社区建起了健身活动室。以</tspan><tspan x="1978" dy="14.2">上设施的建设和配置，拓展了社区服务范围，</tspan><tspan x="1978" dy="14.2">强化了社区功能，繁荣了社会文化，受到群众</tspan><tspan x="1978" dy="14.2">的拥护和欢迎，也得到上级领导机关的肯定。</tspan><tspan x="1978" dy="14.2">2020年被评为吉林市级社区建设示范街道。</tspan></text>
<line class="u" x1="1972" y1="2984" x2="2205" y2="2984"/>
</g>
<g id="p3-2d4">
<text class="t" y="3024.5"><tspan x="1978" dy="0">街道其他各项工作，也都取得可喜成绩。党建</tspan><tspan x="1978" dy="14.2">工作和精神文明工作年年受到市委表彰；与1</tspan><tspan x="1978" dy="14.2">8个企业签定用工合同，开发就业岗位321个</tspan><tspan x="1978" dy="14.2">，输出劳务人员1480人（含境外1100多人）</tspan><tspan x="1978" dy="14.2">，扶持创业成功项目5个，扶助微型企业48家</tspan><tspan x="1978" dy="14.2">，办理《再就业优惠证》237个，小额贷款52</tspan><tspan x="1978" dy="14.2">万元，被评为XX市再就业先进单位，所辖XX</tspan><tspan x="1978" dy="14.2">社区被XX市评为再就业模范社区；连续八年</tspan><tspan x="1978" dy="14.2">被市政府评为计划生育先进单位；社会治安秩</tspan><tspan x="1978" dy="14.2">序明显好转，被XX市评为"平安街道"；全街</tspan><tspan x="1978" dy="14.2">道986户，2142人纳入最低生活保障线，阳</tspan><tspan x="1978" dy="14.2">光慈善超市接到捐赠衣物2163件，米面2000</tspan><tspan x="1978" dy="14.2">斤，豆油300多斤，现金4000多元，安置下</tspan><tspan x="1978" dy="14.2">岗失业人员5000多人次，有近2400人得到了</tspan><tspan x="1978" dy="14.2">灵活就业补贴，解决了居民的生活困难，保障</tspan><tspan x="1978" dy="14.2">了居民的基本生活需求。</tspan></text>
<line class="u" x1="1972" y1="3246" x2="2205" y2="3246"/>
</g>
<g id="p3-2d5">
<text class="t" x="1978" y="3285">（二）、审计中发现的问题</text>
<line class="u" x1="1972" y1="3293.5" x2="2115" y2="3293.5"/>
</g>
<g id="p3-2e">
<text class="t" y="3334.3"><tspan x="1840" dy="0">1、违反《现金管理条例实施细则》第六条"</tspan><tspan x="1840" dy="14.2">开户单位之间的经济往来必须通过银行进行转</tspan><tspan x="1840" dy="14.2">帐结算"、第七条"结算起点为一千元"和第八</tspan><tspan x="1840" dy="14.2">条"除本条例第六条第（五）、（六）项外，</tspan><tspan x="1840" dy="14.2">开户单位支付给个人的款项中，支付现金不得</tspan><tspan x="1840" dy="14.2">超过一千元"的规定，2020年12月至2020年8</tspan><tspan x="1840" dy="14.2">月超出规定限额</tspan></text>
<line class="u" x1="1834" y1="3428" x2="2067" y2="3428"/>
</g>
<g id="p5">
<text class="l1" x="1283" y="3677">审定结果范文怎么写 第五篇</text>
<line class="u" x1="1275" y1="3686" x2="1460" y2="3686"/>
</g>
<g id="p5-main">
<text class="t" y="3563.9"><tspan x="1490" dy="0">按照市委组织部的委托和我局今年的审计计划</tspan><tspan x="1490" dy="14.2">，依据市纪委、市委组织部和市审计局联合下</tspan><tspan x="1490" dy="14.2">发的《关于对全市乡局级领导干部经济责任审</tspan><tspan x="1490" dy="14.2">计的实施意见》的有关规定，我局派出审计组</tspan><tspan x="1490" dy="14.2">，于20xx年10月9日至10月19日对街道党工</tspan><tspan x="1490" dy="14.2">委书记某同志的任期经济责任进行了审计。审</tspan><tspan x="1490" dy="14.2">计工作得到某同志和街道领导及有关同志的积</tspan><tspan x="1490" dy="14.2">极配合，工作进展顺利，现将审计结果报告如</tspan><tspan x="1490" dy="14.2">下：</tspan></text>
<line class="u" x1="1460" y1="3686" x2="1727" y2="3686"/>
</g>
<g id="p5-1">
<text class="t" x="1742" y="3608.5">一、基本情况</text>
<line class="u" x1="1737" y1="3617" x2="1826" y2="3617"/>
</g>
<g id="p5-1a">
<text class="t" y="3469.1"><tspan x="1840" dy="0">街道是市政府下属的局级建制行政机关，共有</tspan><tspan x="1840" dy="14.2">16个编制，实有16人，其中行政编12个、工</tspan><tspan x="1840" dy="14.2">勤编1个，事业编3个。退休8人，提前离岗2</tspan><tspan x="1840" dy="14.2">人;内设3个科室。某同志任该街道党工委书记</tspan><tspan x="1840" dy="14.2">并主管财务工作。本次审计的时间范围为20</tspan><tspan x="1840" dy="14.2">xx年11月至20xx年8月，资产和债权、债务的</tspan><tspan x="1840" dy="14.2">变化情况系用20xx年年末数字与20xx年8月末</tspan><tspan x="1840" dy="14.2">的数字相比较。</tspan></text>
<line class="u" x1="1834" y1="3577" x2="2067" y2="3577"/>
</g>
<g id="p5-1b">
<text class="t" y="3617.8"><tspan x="1840" dy="0">街道和某同志对提供的与审计有关的会计资料</tspan><tspan x="1840" dy="14.2">和其他资料的真实性、完整性、可靠性作出了</tspan><tspan x="1840" dy="14.2">承诺。</tspan></text>
<line class="u" x1="1834" y1="3654.7" x2="2067" y2="3654.7"/>
</g>
<g id="p5-2">
<text class="t" x="1742" y="3748.5">二、审计结果</text>
<line class="u" x1="1737" y1="3757" x2="1826" y2="3757"/>
</g>
<g id="p5-2a">
<text class="t" x="1840" y="3748.5">(一)主要经济指标</text>
<line class="u" x1="1834" y1="3757" x2="1940" y2="3757"/>
</g>
<g id="p5-2a1">
<text class="t" x="1958" y="3724">1、经费收支情况</text>
<line class="u" x1="1948" y1="3732.5" x2="2062" y2="3732.5"/>
</g>
<g id="p5-2a1a">
<text class="t" y="3695.6"><tspan x="2072" dy="0">20xx年至20xx年8月，收入合计元，其中财政</tspan><tspan x="2072" dy="14.2">拨款元，其他收入元。同期支出合计元，收支</tspan><tspan x="2072" dy="14.2">相抵后，结余元。</tspan></text>
<line class="u" x1="2062" y1="3732.5" x2="2300" y2="3732.5"/>
</g>
<g id="p5-2a2">
<text class="t" x="1958" y="3773">2、资产负债情况</text>
<line class="u" x1="1948" y1="3781.6" x2="2045" y2="3781.6"/>
</g>
</svg>
